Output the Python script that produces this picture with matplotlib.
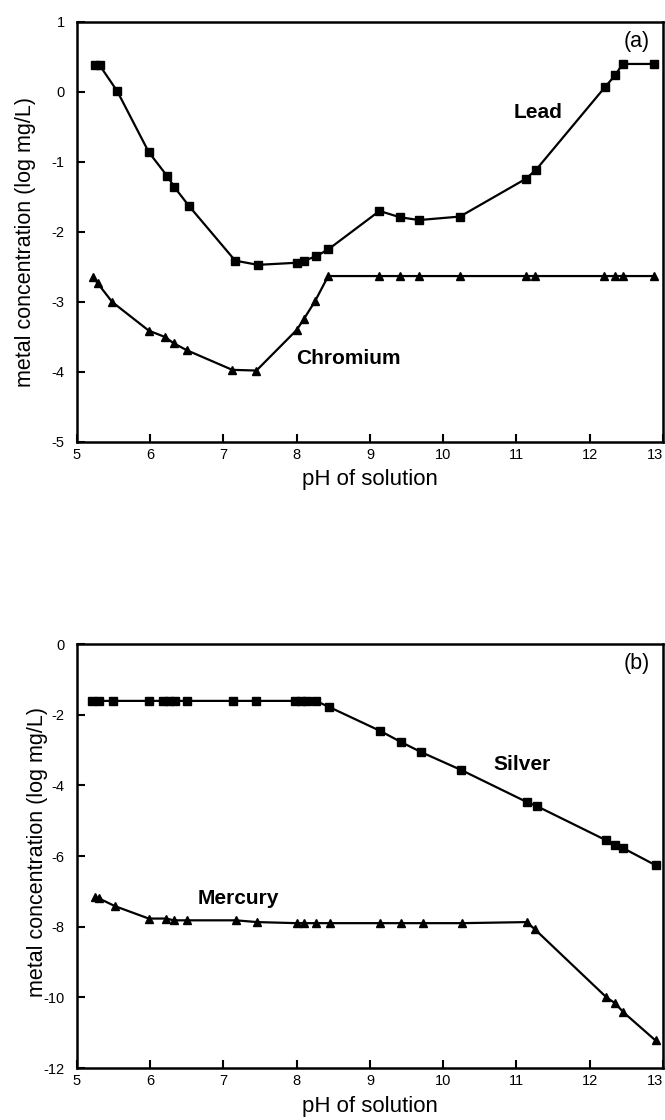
import matplotlib
matplotlib.use("Agg")
import matplotlib.pyplot as plt

plt.rcParams['font.family'] = ['Liberation Sans', 'DejaVu Sans']

# ---- Panel (a) data ----
lead_ph = [5.25, 5.31, 5.55, 5.98, 6.23, 6.33, 6.53, 7.16, 7.47, 8.0, 8.1, 8.26, 8.43,
           9.13, 9.41, 9.67, 10.23, 11.13, 11.27, 12.21, 12.35, 12.45, 12.88]
lead_conc = [0.38, 0.38, 0.01, -0.86, -1.2, -1.36, -1.63, -2.41, -2.47, -2.44, -2.41, -2.35, -2.25,
             -1.70, -1.79, -1.83, -1.78, -1.24, -1.11, 0.07, 0.24, 0.40, 0.40]

chrom_ph = [5.22, 5.28, 5.48, 5.98, 6.2, 6.32, 6.5, 7.12, 7.45, 8.0, 8.1, 8.25, 8.43,
            9.13, 9.41, 9.67, 10.23, 11.13, 11.25, 12.2, 12.35, 12.45, 12.88]
chrom_conc = [-2.64, -2.73, -3.0, -3.41, -3.5, -3.59, -3.69, -3.97, -3.98, -3.4, -3.24, -2.99, -2.63,
              -2.63, -2.63, -2.63, -2.63, -2.63, -2.63, -2.63, -2.63, -2.63, -2.63]

# ---- Panel (b) data ----
silver_ph = [5.2, 5.3, 5.49, 5.98, 6.18, 6.25, 6.34, 6.5, 7.13, 7.45, 7.98, 8.06, 8.14, 8.26, 8.44,
             9.14, 9.43, 9.7, 10.25, 11.14, 11.28, 12.22, 12.35, 12.46, 12.9]
silver_conc = [-1.61, -1.61, -1.61, -1.61, -1.61, -1.61, -1.61, -1.61, -1.61, -1.61, -1.61, -1.61,
               -1.61, -1.61, -1.78, -2.46, -2.78, -3.06, -3.57, -4.47, -4.59, -5.55, -5.69, -5.78, -6.26]

merc_ph = [5.25, 5.3, 5.52, 5.98, 6.22, 6.32, 6.5, 7.17, 7.46, 8.0, 8.1, 8.26, 8.45,
           9.14, 9.43, 9.72, 10.26, 11.14, 11.25, 12.23, 12.35, 12.46, 12.9]
merc_conc = [-7.17, -7.2, -7.42, -7.77, -7.77, -7.82, -7.82, -7.82, -7.87, -7.9, -7.9, -7.9, -7.9,
             -7.9, -7.9, -7.9, -7.9, -7.87, -8.07, -10.0, -10.17, -10.42, -11.22]

xticks = [5, 6, 7, 8, 9, 10, 11, 12, 13]
yticks_a = [1, 0, -1, -2, -3, -4, -5]
yticks_b = [0, -2, -4, -6, -8, -10, -12]

W, H = 665, 1120
fig = plt.figure(figsize=(W / 100, H / 100), dpi=100)
ax1 = fig.add_axes([0.1158, 0.6054, 0.881, 0.375])
ax2 = fig.add_axes([0.1158, 0.0464, 0.881, 0.3786])

tick_font = dict(size=10.5)

def style(ax, yticks, ylim, ylab_x, ylab_y):
    ax.set_xlim(5, 13)
    ax.set_ylim(*ylim)
    ax.set_xticks(xticks)
    ax.set_yticks(yticks)
    ax.set_xticklabels([str(t) for t in xticks], fontdict=tick_font)
    ax.set_yticklabels([str(t) for t in yticks], fontdict=tick_font)
    ax.get_xticklabels()[-1].set_horizontalalignment('right')
    for s in ax.spines.values():
        s.set_linewidth(1.8)
    ax.tick_params(axis='both', direction='in', length=6, width=1.5,
                   top=False, right=False)
    ax.tick_params(axis='x', pad=4)
    ax.tick_params(axis='y', pad=9)
    ax.set_xlabel('pH of solution', fontsize=16)
    ax.set_ylabel('metal concentration (log mg/L)', fontsize=15.5)
    ax.xaxis.set_label_coords(0.5, -0.09)
    ax.xaxis.label.set_verticalalignment('center')
    ax.yaxis.set_label_coords(ylab_x, ylab_y)
    ax.yaxis.label.set_verticalalignment('center')

def ptext(x, y, s, **kw):
    fig.text(x / W, 1 - y / H, s, ha='center', va='center', **kw)

ax1.plot(lead_ph, lead_conc, color='black', lw=1.6, marker='s', ms=5.5)
ax1.plot(chrom_ph, chrom_conc, color='black', lw=1.6, marker='^', ms=5.5)
style(ax1, yticks_a, (-5, 1), (25 - 77) / 586, 0.476)

ax2.plot(silver_ph, silver_conc, color='black', lw=1.6, marker='s', ms=5.5)
ax2.plot(merc_ph, merc_conc, color='black', lw=1.6, marker='^', ms=5.5)
style(ax2, yticks_b, (-12, 0), (37 - 77) / 586, 0.51)

ptext(538, 113, 'Lead', fontsize=15, fontweight='bold')
ptext(348, 358, 'Chromium', fontsize=15, fontweight='bold')
ptext(637, 42, '(a)', fontsize=15.5)
ptext(522, 764, 'Silver', fontsize=15, fontweight='bold')
ptext(238, 898, 'Mercury', fontsize=15, fontweight='bold')
ptext(637, 663, '(b)', fontsize=15.5)

fig.savefig('out.png', dpi=100)
